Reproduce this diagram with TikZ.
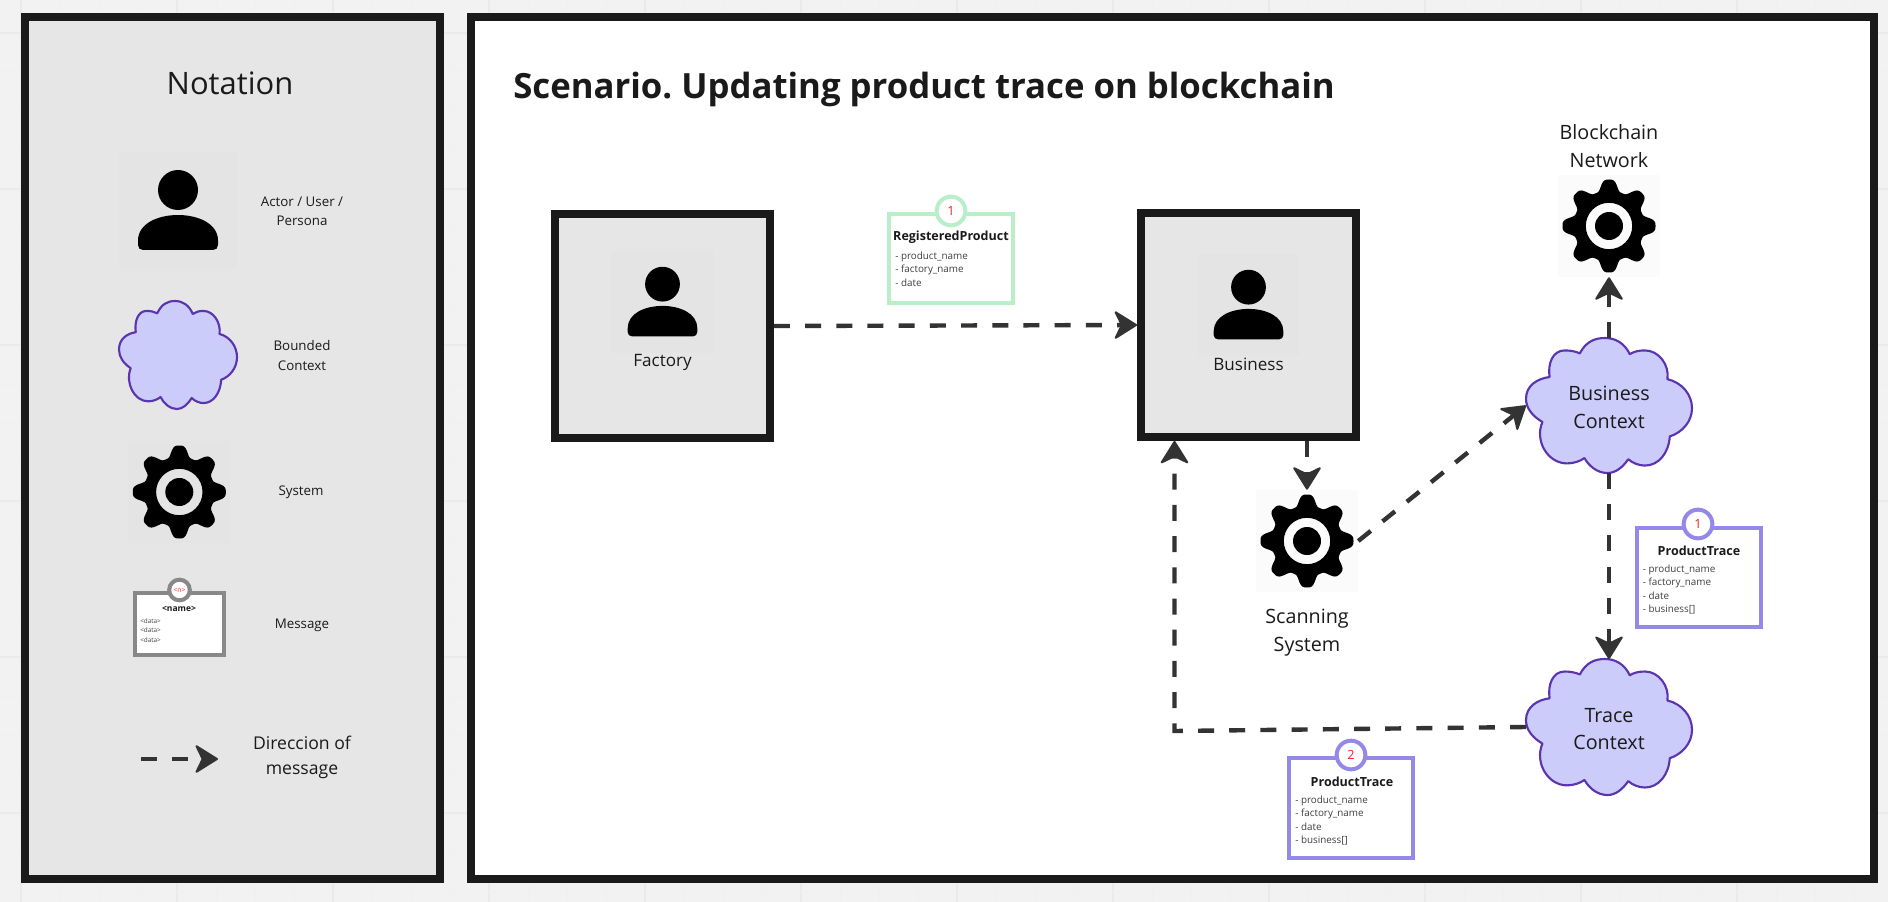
\documentclass[tikz,border=0pt]{standalone}
\usepackage{fontspec}
\setmainfont{Open Sans}
\usetikzlibrary{arrows.meta,calc}
\definecolor{canvasbg}{HTML}{F2F2F2}
\definecolor{gridminor}{HTML}{F0F0F0}
\definecolor{gridmajor}{HTML}{EAEAEA}
\definecolor{frame}{HTML}{1A1A1A}
\definecolor{panelgray}{HTML}{E6E6E6}
\definecolor{tilegraybg}{HTML}{E4E4E4}
\definecolor{tilewhitebg}{HTML}{FBFBFB}
\definecolor{cloudfill}{HTML}{CCCCFA}
\definecolor{cloudline}{HTML}{5B34B0}
\definecolor{msgpurple}{HTML}{9488E8}
\definecolor{msggreen}{HTML}{B8EFC9}
\definecolor{msggray}{HTML}{888888}
\definecolor{flow}{HTML}{333333}
\definecolor{numred}{HTML}{F02020}
\tikzset{
  panelbox/.style={draw=frame,line width=5.8pt,inner sep=0pt},
  tilegray/.style={fill=tilegraybg,inner sep=0pt,draw=none},
  tilewhite/.style={fill=tilewhitebg,inner sep=0pt,draw=none},
  bbox/.style={inner sep=0pt,outer sep=0pt,draw=none},
  lab/.style={text=frame,inner sep=0pt,align=center},
  smalllab/.style={lab,font=\fontsize{10}{14.3}\selectfont},
  midlab/.style={lab,font=\fontsize{12.8}{17}\selectfont},
  biglab/.style={lab,font=\fontsize{14.8}{20.8}\selectfont},
  msgbox/.style={fill=white,inner sep=0pt,line width=3pt},
  msgnum/.style={circle,fill=white,inner sep=0pt,line width=3pt,minimum size=21.5pt,text=numred,font=\fontsize{9.5}{10}\selectfont},
  msgtitle/.style={lab,font=\fontsize{9.4}{11}\bfseries\selectfont},
  msgdata/.style={lab,align=left,anchor=north west,font=\fontsize{7.4}{9.9}\selectfont,text=black!75},
  flowline/.style={draw=flow,line width=3.3pt,dash pattern=on 12pt off 11.4pt,
    -{Stealth[length=18.5pt,width=23pt,inset=5.5pt,round,line width=1.5pt]}},
}
\newcommand\gearicon[1]{\fill[black,even odd rule,shift={(#1.center)}]
  plot[domain=0:358,samples=180] (\x:{40.9+5.6*(1.5*cos(8*\x)-0.5*cos(8*\x)*cos(8*\x)*cos(8*\x))}) -- cycle
  (0,0) circle (23.2) (0,0) circle (14);}
\newcommand\personicon[2]{\begin{scope}[shift={(#1.center)},scale=#2]
  \fill[black] (0,-20.5) circle (20);
  \fill[black] (-35,39.5) -- (35,39.5) .. controls (38,39.5) and (40,37.5) .. (40,34.5)
     -- (40,30) .. controls (40,13) and (20,4.5) .. (0,4.5)
     .. controls (-20,4.5) and (-40,13) .. (-40,30) -- (-40,34.5)
     .. controls (-40,37.5) and (-38,39.5) .. (-35,39.5) -- cycle;
  \end{scope}}
\newcommand\cloudicon[3]{\begin{scope}[shift={(#1.north west)},x=#2pt,y=-#3pt]
  \draw[fill=cloudfill,draw=cloudline,line width=1.6pt,line join=round]
   (.324,.114) .. controls (.36,.03) and (.41,0) .. (.475,0)
   .. controls (.54,0) and (.595,.04) .. (.625,.12)
   .. controls (.65,.10) and (.68,.092) .. (.716,.092)
   .. controls (.80,.092) and (.865,.20) .. (.852,.305)
   .. controls (.94,.33) and (1,.42) .. (1,.52)
   .. controls (1,.62) and (.94,.70) .. (.866,.729)
   .. controls (.86,.85) and (.80,.945) .. (.716,.945)
   .. controls (.68,.945) and (.64,.925) .. (.616,.898)
   .. controls (.58,.96) and (.54,1) .. (.49,1)
   .. controls (.43,1) and (.38,.95) .. (.352,.889)
   .. controls (.33,.91) and (.29,.929) .. (.247,.929)
   .. controls (.13,.929) and (.05,.76) .. (.099,.622)
   .. controls (.04,.58) and (0,.52) .. (0,.45)
   .. controls (0,.35) and (.07,.30) .. (.142,.289)
   .. controls (.13,.19) and (.16,.092) .. (.233,.092)
   .. controls (.27,.092) and (.30,.10) .. (.324,.114) -- cycle;
  \end{scope}}
\begin{document}
\frenchspacing
\begin{tikzpicture}[x=0.75pt,y=-0.75pt]
\useasboundingbox (0,0) rectangle (1888,902);
\fill[canvasbg] (0,0) rectangle (1888,902);
\foreach \k in {0,...,48}{
  \pgfmathtruncatemacro\m{mod(\k,4)}
  \ifnum\m=0 \draw[gridmajor,line width=1.2pt] ({21+39*\k},0) -- ({21+39*\k},902);
  \else \draw[gridminor,line width=.75pt] ({21+39*\k},0) -- ({21+39*\k},902); \fi}
\foreach \k in {0,...,22}{
  \pgfmathtruncatemacro\m{mod(\k,4)}
  \ifnum\m=0 \draw[gridmajor,line width=1.2pt] (0,{33+39*\k}) -- (1888,{33+39*\k});
  \else \draw[gridminor,line width=.75pt] (0,{33+39*\k}) -- (1888,{33+39*\k}); \fi}

% panels
\node[panelbox,fill=panelgray,minimum width=311.25pt,minimum height=646.5pt] (notation) at (232.5,448) {};
\node[panelbox,fill=white,minimum width=1052.25pt,minimum height=646.5pt] (scenario) at (1172.5,448) {};

% notation panel
\node[lab,font=\fontsize{23.2}{27}\selectfont] (ntitle) at (230,83) {Notation};
\node[tilegray,minimum width=88.5pt,minimum height=88pt] (nperson) at (178,210.5) {};
\personicon{nperson}{1}
\node[smalllab] (nactor) at (302,211) {Actor / User /\\Persona};
\node[bbox,minimum width=88.5pt,minimum height=81pt] (ncloud) at (178,355) {};
\cloudicon{ncloud}{88.5}{81}
\node[smalllab] (nbounded) at (302,355.5) {Bounded\\Context};
\node[tilegray,minimum width=76.5pt,minimum height=76.5pt] (ngear) at (179.3,492) {};
\gearicon{ngear}
\node[smalllab] (nsystem) at (301,492) {System};
\node[msgbox,draw=msggray,minimum width=66.5pt,minimum height=46.5pt] (nmsg) at (179.5,624) {};
\node[msgnum,draw=msggray,minimum size=15.5pt,font=\fontsize{5}{5}\selectfont] (nnum) at (179.5,590) {<n>};
\node[lab,font=\fontsize{6.4}{7}\bfseries\selectfont] (nname) at (179,609) {<name>};
\node[msgdata,font=\fontsize{4.8}{7.1}\selectfont] (ndata) at (140,618) {<data>\\<data>\\<data>};
\node[smalllab] (nmessage) at (302,625.5) {Message};
\coordinate (dirstart) at (141,759);
\coordinate (dirend) at (218,759);
\draw[flowline] (dirstart) -- (dirend);
\node[lab,font=\fontsize{13.2}{18.8}\selectfont] (ndir) at (302,757.5) {Direccion of\\message};

% scenario
\node[lab,anchor=base west,font=\fontsize{26.05}{30}\bfseries\selectfont] (stitle) at (513,99) {Scenario. Updating product trace on blockchain};

\node[panelbox,fill=panelgray,minimum width=161.25pt,minimum height=168pt] (fac) at (662.5,326) {};
\node[tilegray,minimum width=77pt,minimum height=76.5pt] (factile) at (662.5,302) {};
\personicon{factile}{.87}
\node[midlab] (factxt) at (662.5,362) {Factory};

\node[panelbox,fill=panelgray,minimum width=161.25pt,minimum height=168pt] (biz) at (1248.5,325) {};
\node[tilegray,minimum width=76pt,minimum height=76.5pt] (biztile) at (1248.5,305) {};
\personicon{biztile}{.87}
\node[midlab] (biztxt) at (1248.5,364) {Business};

% registered product
\node[msgbox,draw=msggreen,minimum width=93pt,minimum height=67pt] (m1) at (951,258.5) {};
\node[msgnum,draw=msggreen] (m1n) at (951,211) {1};
\node[msgtitle] (m1t) at (951,237) {RegisteredProduct};
\node[msgdata] (m1d) at (895,252) {- product\_name\\- factory\_name\\- date};

% blockchain gear
\node[biglab] (bntxt) at (1609,146) {Blockchain\\Network};
\node[tilewhite,minimum width=76.5pt,minimum height=76.5pt] (bngear) at (1609,226) {};
\gearicon{bngear}

% scanning gear
\node[tilewhite,minimum width=76.5pt,minimum height=76.5pt] (scan) at (1307,541) {};
\gearicon{scan}
\node[biglab] (scantxt) at (1307,632.5) {Scanning\\System};

% clouds
\node[bbox,minimum width=124.5pt,minimum height=101.25pt] (bc) at (1609,405.5) {};
\cloudicon{bc}{124.5}{101.25}
\node[biglab] (bctxt) at (1609,407) {Business\\Context};
\node[bbox,minimum width=124.5pt,minimum height=102pt] (tc) at (1609,727) {};
\cloudicon{tc}{124.5}{102}
\node[biglab] (tctxt) at (1609,729) {Trace\\Context};

% product trace 1
\node[msgbox,draw=msgpurple,minimum width=93pt,minimum height=74.5pt] (m2) at (1698.5,577.5) {};
\node[msgnum,draw=msgpurple] (m2n) at (1698,524) {1};
\node[msgtitle] (m2t) at (1699,551) {ProductTrace};
\node[msgdata] (m2d) at (1642.5,565) {- product\_name\\- factory\_name\\- date\\- business[]};

% product trace 2
\node[msgbox,draw=msgpurple,minimum width=93pt,minimum height=74.5pt] (m3) at (1351,808) {};
\node[msgnum,draw=msgpurple] (m3n) at (1351,755) {2};
\node[msgtitle] (m3t) at (1352,782) {ProductTrace};
\node[msgdata] (m3d) at (1295,796) {- product\_name\\- factory\_name\\- date\\- business[]};

% connectors
\coordinate (bend) at (1174.5,731);
\draw[flowline] (fac.east) -- (biz.west);
\draw[flowline] (biz.south -| scan.north) -- (scan.north);
\draw[flowline] (scan.east) -- (bc.west);
\draw[flowline] (bc.north) -- (bngear.south);
\draw[flowline] (bc.south) -- (tc.north);
\draw[flowline] (tc.west) -- (bend) -- (bend |- biz.south);
\end{tikzpicture}
\end{document}
